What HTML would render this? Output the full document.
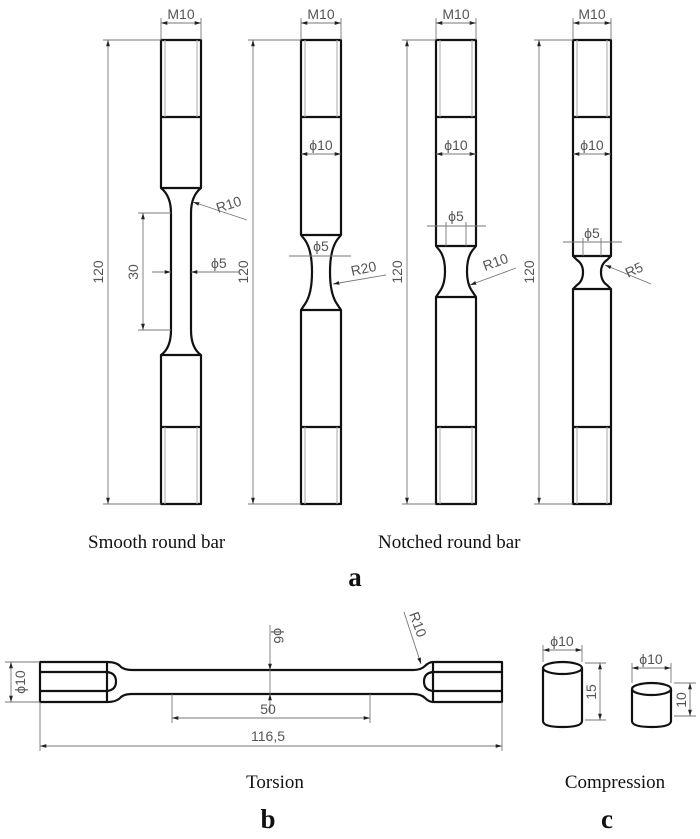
<!DOCTYPE html>
<html><head><meta charset="utf-8"><style>
html,body{margin:0;padding:0;background:#fff;}
svg{display:block;}
.o{fill:none;stroke:#111;stroke-width:2.2;stroke-linejoin:round;}
.t{fill:none;stroke:#aaa;stroke-width:1;}
.d{fill:none;stroke:#777;stroke-width:0.9;}
.dt{font-family:"Liberation Sans",sans-serif;font-size:14px;fill:#555;}
.lb{font-family:"Liberation Serif",serif;font-size:19px;fill:#111;}
.bl{font-family:"Liberation Serif",serif;font-size:27px;font-weight:bold;fill:#111;}
</style></head><body>
<svg width="700" height="839" viewBox="0 0 700 839" xmlns="http://www.w3.org/2000/svg">
<defs>
<marker id="a" viewBox="0 0 10 10" refX="10" refY="5" markerWidth="7" markerHeight="7" orient="auto-start-reverse"><path d="M0,2 L10,5 L0,8 Z" fill="#222"/></marker>
</defs>

<g>
<path class="o" d="M161,40 H201 V188 Q191,196 191,213 V330 Q191,348 201,355 V504 H161 V355 Q171,348 171,330 V213 Q171,196 161,188 Z"/>
<line class="o" x1="161" y1="117" x2="201" y2="117"/>
<line class="o" x1="161" y1="188" x2="201" y2="188"/>
<line class="o" x1="161" y1="355" x2="201" y2="355"/>
<line class="o" x1="161" y1="427" x2="201" y2="427"/>
<line class="t" x1="165" y1="40" x2="165" y2="117"/><line class="t" x1="197" y1="40" x2="197" y2="117"/>
<line class="t" x1="165" y1="427" x2="165" y2="504"/><line class="t" x1="197" y1="427" x2="197" y2="504"/>
<line class="d" x1="161" y1="18" x2="161" y2="40"/><line class="d" x1="201" y1="18" x2="201" y2="40"/>
<line class="d" x1="161" y1="23" x2="201" y2="23" marker-start="url(#a)" marker-end="url(#a)"/>
<text class="dt" x="181" y="19" text-anchor="middle">M10</text>
<line class="d" x1="103" y1="40" x2="161" y2="40"/><line class="d" x1="103" y1="504" x2="161" y2="504"/>
<line class="d" x1="108" y1="40" x2="108" y2="504" marker-start="url(#a)" marker-end="url(#a)"/>
<text class="dt" transform="translate(103,272) rotate(-90)" text-anchor="middle">120</text>
<line class="d" x1="138" y1="213" x2="171" y2="213"/><line class="d" x1="138" y1="330" x2="171" y2="330"/>
<line class="d" x1="143" y1="213" x2="143" y2="330" marker-start="url(#a)" marker-end="url(#a)"/>
<text class="dt" transform="translate(138,272) rotate(-90)" text-anchor="middle">30</text>
<line class="d" x1="152" y1="272" x2="171" y2="272" marker-end="url(#a)"/>
<line class="d" x1="240" y1="272" x2="191" y2="272" marker-end="url(#a)"/>
<text class="dt" x="211" y="268">ϕ5</text>
<line class="d" x1="247" y1="220" x2="193" y2="202" marker-end="url(#a)"/>
<text class="dt" transform="translate(218,213) rotate(-18)">R10</text>
</g>

<g>
<path class="o" d="M301,40 H341 V235 L337,240 Q330,250 330,272 Q330,294 337,304 L341,310 V504 H301 V310 L305,304 Q312,294 312,272 Q312,250 305,240 L301,235 Z"/>
<line class="o" x1="301" y1="117" x2="341" y2="117"/>
<line class="o" x1="301" y1="235" x2="341" y2="235"/>
<line class="o" x1="301" y1="310" x2="341" y2="310"/>
<line class="o" x1="301" y1="427" x2="341" y2="427"/>
<line class="t" x1="305" y1="40" x2="305" y2="117"/><line class="t" x1="337" y1="40" x2="337" y2="117"/>
<line class="t" x1="305" y1="427" x2="305" y2="504"/><line class="t" x1="337" y1="427" x2="337" y2="504"/>
<line class="d" x1="301" y1="18" x2="301" y2="40"/><line class="d" x1="341" y1="18" x2="341" y2="40"/>
<line class="d" x1="301" y1="23" x2="341" y2="23" marker-start="url(#a)" marker-end="url(#a)"/>
<text class="dt" x="321" y="19" text-anchor="middle">M10</text>
<line class="d" x1="248" y1="40" x2="301" y2="40"/><line class="d" x1="248" y1="504" x2="301" y2="504"/>
<line class="d" x1="253" y1="40" x2="253" y2="504" marker-start="url(#a)" marker-end="url(#a)"/>
<text class="dt" transform="translate(248,272) rotate(-90)" text-anchor="middle">120</text>
<line class="d" x1="301" y1="154" x2="341" y2="154" marker-start="url(#a)" marker-end="url(#a)"/>
<text class="dt" x="321" y="150" text-anchor="middle">ϕ10</text>
<line class="d" x1="289" y1="256" x2="351" y2="256"/>
<text class="dt" x="321" y="251" text-anchor="middle">ϕ5</text>
<line class="d" x1="386" y1="275" x2="333" y2="284" marker-end="url(#a)"/>
<text class="dt" transform="translate(352,276) rotate(-12)">R20</text>
</g>

<g>
<path class="o" d="M436,40 H476 V246 L472,251 Q467,258 467,271 Q467,284 472,291 L476,297 V504 H436 V297 L440,291 Q445,284 445,271 Q445,258 440,251 L436,246 Z"/>
<line class="o" x1="436" y1="117" x2="476" y2="117"/>
<line class="o" x1="436" y1="246" x2="476" y2="246"/>
<line class="o" x1="436" y1="297" x2="476" y2="297"/>
<line class="o" x1="436" y1="427" x2="476" y2="427"/>
<line class="t" x1="440" y1="40" x2="440" y2="117"/><line class="t" x1="472" y1="40" x2="472" y2="117"/>
<line class="t" x1="440" y1="427" x2="440" y2="504"/><line class="t" x1="472" y1="427" x2="472" y2="504"/>
<line class="d" x1="436" y1="18" x2="436" y2="40"/><line class="d" x1="476" y1="18" x2="476" y2="40"/>
<line class="d" x1="436" y1="23" x2="476" y2="23" marker-start="url(#a)" marker-end="url(#a)"/>
<text class="dt" x="456" y="19" text-anchor="middle">M10</text>
<line class="d" x1="402" y1="40" x2="436" y2="40"/><line class="d" x1="402" y1="504" x2="436" y2="504"/>
<line class="d" x1="407" y1="40" x2="407" y2="504" marker-start="url(#a)" marker-end="url(#a)"/>
<text class="dt" transform="translate(402,272) rotate(-90)" text-anchor="middle">120</text>
<line class="d" x1="436" y1="154" x2="476" y2="154" marker-start="url(#a)" marker-end="url(#a)"/>
<text class="dt" x="456" y="150" text-anchor="middle">ϕ10</text>
<line class="d" x1="427" y1="226" x2="486" y2="226"/>
<line class="d" x1="446" y1="222" x2="446" y2="246"/><line class="d" x1="466" y1="222" x2="466" y2="246"/>
<text class="dt" x="456" y="221" text-anchor="middle">ϕ5</text>
<line class="d" x1="516" y1="268" x2="470" y2="285" marker-end="url(#a)"/>
<text class="dt" transform="translate(485,271) rotate(-20)">R10</text>
</g>

<g>
<path class="o" d="M573,40 H611 V256 L607,260 Q601,264 601,272 Q601,281 607,285 L611,289 V504 H573 V289 L577,285 Q583,281 583,272 Q583,264 577,260 L573,256 Z"/>
<line class="o" x1="573" y1="117" x2="611" y2="117"/>
<line class="o" x1="573" y1="256" x2="611" y2="256"/>
<line class="o" x1="573" y1="289" x2="611" y2="289"/>
<line class="o" x1="573" y1="427" x2="611" y2="427"/>
<line class="t" x1="577" y1="40" x2="577" y2="117"/><line class="t" x1="607" y1="40" x2="607" y2="117"/>
<line class="t" x1="577" y1="427" x2="577" y2="504"/><line class="t" x1="607" y1="427" x2="607" y2="504"/>
<line class="d" x1="573" y1="18" x2="573" y2="40"/><line class="d" x1="611" y1="18" x2="611" y2="40"/>
<line class="d" x1="573" y1="23" x2="611" y2="23" marker-start="url(#a)" marker-end="url(#a)"/>
<text class="dt" x="592" y="19" text-anchor="middle">M10</text>
<line class="d" x1="534" y1="40" x2="573" y2="40"/><line class="d" x1="534" y1="504" x2="573" y2="504"/>
<line class="d" x1="539" y1="40" x2="539" y2="504" marker-start="url(#a)" marker-end="url(#a)"/>
<text class="dt" transform="translate(534,272) rotate(-90)" text-anchor="middle">120</text>
<line class="d" x1="573" y1="154" x2="611" y2="154" marker-start="url(#a)" marker-end="url(#a)"/>
<text class="dt" x="592" y="150" text-anchor="middle">ϕ10</text>
<line class="d" x1="563" y1="242" x2="622" y2="242"/>
<line class="d" x1="583" y1="238" x2="583" y2="256"/><line class="d" x1="601" y1="238" x2="601" y2="256"/>
<text class="dt" x="592" y="238" text-anchor="middle">ϕ5</text>
<line class="d" x1="651" y1="284" x2="605" y2="265" marker-end="url(#a)"/>
<text class="dt" transform="translate(628,278) rotate(-25)">R5</text>
</g>

<text class="lb" x="88" y="548">Smooth round bar</text>
<text class="lb" x="378" y="548">Notched round bar</text>
<text class="bl" x="355" y="586" text-anchor="middle">a</text>

<g>
<path class="o" d="M40,662 H107 Q117,662 121,667 Q125,670 132,670 H413 Q421,670 425,666 Q429,662 433,662 H502 V702 H433 Q429,702 425,698 Q421,694 413,694 H132 Q125,694 121,697 Q117,702 107,702 H40 Z"/>
<line class="o" x1="40" y1="672" x2="107" y2="672"/><line class="o" x1="40" y1="691" x2="107" y2="691"/>
<line class="o" x1="107" y1="662" x2="107" y2="702"/>
<path class="o" d="M107,672 Q116,673 116,681.5 Q116,690 107,691"/>
<line class="o" x1="433" y1="672" x2="502" y2="672"/><line class="o" x1="433" y1="691" x2="502" y2="691"/>
<line class="o" x1="433" y1="662" x2="433" y2="702"/>
<path class="o" d="M433,672 Q424,673 424,681.5 Q424,690 433,691"/>
<line class="d" x1="5" y1="662" x2="40" y2="662"/><line class="d" x1="5" y1="702" x2="40" y2="702"/>
<line class="d" x1="11" y1="662" x2="11" y2="702" marker-start="url(#a)" marker-end="url(#a)"/>
<text class="dt" transform="translate(25,682) rotate(-90)" text-anchor="middle">ϕ10</text>
<line class="d" x1="270" y1="625" x2="270" y2="670" marker-end="url(#a)"/>
<line class="d" x1="270" y1="712" x2="270" y2="694" marker-end="url(#a)"/>
<line class="d" x1="270" y1="670" x2="270" y2="694"/>
<text class="dt" transform="translate(274,628) rotate(90)">ϕ6</text>
<line class="d" x1="172" y1="694" x2="172" y2="723"/><line class="d" x1="370" y1="694" x2="370" y2="723"/>
<line class="d" x1="172" y1="718" x2="370" y2="718" marker-start="url(#a)" marker-end="url(#a)"/>
<text class="dt" x="268" y="714" text-anchor="middle">50</text>
<line class="d" x1="40" y1="702" x2="40" y2="751"/><line class="d" x1="502" y1="702" x2="502" y2="751"/>
<line class="d" x1="40" y1="746" x2="502" y2="746" marker-start="url(#a)" marker-end="url(#a)"/>
<text class="dt" x="268" y="741" text-anchor="middle">116,5</text>
<line class="d" x1="404" y1="612" x2="421" y2="664" marker-end="url(#a)"/>
<text class="dt" transform="translate(409,614) rotate(70)">R10</text>
</g>

<g>
<ellipse class="o" cx="562.5" cy="668" rx="19.5" ry="6"/>
<path class="o" d="M543,668 V721 Q543,727 562.5,727 Q582,727 582,721 V668"/>
<line class="d" x1="543" y1="645" x2="543" y2="662"/><line class="d" x1="582" y1="645" x2="582" y2="662"/>
<line class="d" x1="543" y1="650" x2="582" y2="650" marker-start="url(#a)" marker-end="url(#a)"/>
<text class="dt" x="562" y="646" text-anchor="middle">ϕ10</text>
<line class="d" x1="585" y1="663" x2="606" y2="663"/><line class="d" x1="585" y1="720" x2="606" y2="720"/>
<line class="d" x1="600" y1="663" x2="600" y2="720" marker-start="url(#a)" marker-end="url(#a)"/>
<text class="dt" transform="translate(596,692) rotate(-90)" text-anchor="middle">15</text>

<ellipse class="o" cx="651.5" cy="689" rx="19.5" ry="6"/>
<path class="o" d="M632,689 V721 Q632,727 651.5,727 Q671,727 671,721 V689"/>
<line class="d" x1="632" y1="663" x2="632" y2="683"/><line class="d" x1="671" y1="663" x2="671" y2="683"/>
<line class="d" x1="632" y1="668" x2="671" y2="668" marker-start="url(#a)" marker-end="url(#a)"/>
<text class="dt" x="651" y="664" text-anchor="middle">ϕ10</text>
<line class="d" x1="674" y1="683" x2="696" y2="683"/><line class="d" x1="674" y1="716" x2="696" y2="716"/>
<line class="d" x1="690" y1="683" x2="690" y2="716" marker-start="url(#a)" marker-end="url(#a)"/>
<text class="dt" transform="translate(686,700) rotate(-90)" text-anchor="middle">10</text>
</g>

<text class="lb" x="275" y="788" text-anchor="middle">Torsion</text>
<text class="lb" x="615" y="788" text-anchor="middle">Compression</text>
<text class="bl" x="268" y="828" text-anchor="middle">b</text>
<text class="bl" x="607" y="828" text-anchor="middle">c</text>
</svg>
</body></html>
